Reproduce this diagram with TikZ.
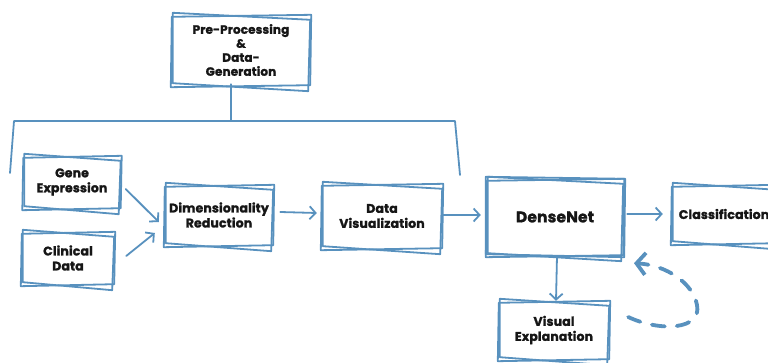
\documentclass[tikz,border=0pt]{standalone}
\usepackage{fontspec}
\setmainfont{Poppins}[BoldFeatures={FakeBold=1.5, LetterSpace=1}]
\usetikzlibrary{arrows.meta}
\definecolor{sketchblue}{RGB}{88,145,190}
\definecolor{ink}{RGB}{22,22,22}
\tikzset{
  x=1pt, y=-1pt,
  box/.style={inner sep=0pt, align=center, text=ink,
    font=\bfseries\fontsize{12.5}{15}\selectfont},
  edge/.style={draw=sketchblue, line width=1.8pt, line cap=round, line join=round},
  flow/.style={edge, -{Straight Barb[length=6pt,width=13pt,line width=1.8pt]}},
  loopback/.style={draw=sketchblue, line width=3.8pt, line cap=round,
    dash pattern=on 13pt off 12pt,
    -{Straight Barb[length=9pt,width=22pt,line width=3.8pt]}},
}
% two skewed outlines round a node, as if sketched by hand
\newcommand\sketchframe[1]{%
  \draw[edge] ([shift={(-1pt,3pt)}]#1.north west) -- ([shift={(2pt,-4pt)}]#1.north east)
    -- ([shift={(0pt,-7pt)}]#1.south east) -- ([shift={(-1pt,1pt)}]#1.south west) -- cycle;
  \draw[edge] ([shift={(-2pt,-1pt)}]#1.north west) -- ([shift={(3pt,1pt)}]#1.north east)
    -- ([shift={(2pt,-1pt)}]#1.south east) -- ([shift={(-3pt,-3pt)}]#1.south west) -- cycle;
}
\begin{document}
\begin{tikzpicture}
\useasboundingbox (0,0) rectangle (768,363);

% boxes
\node[box, minimum width=134pt, minimum height=68pt, font=\bfseries\fontsize{12}{14}\selectfont]
  (pre) at (241,50) {Pre-Processing\\\&\\Data-\\Generation};
\node[box, minimum width=93pt, minimum height=50pt] (gene) at (72,182) {Gene\\Expression};
\node[box, minimum width=88pt, minimum height=50pt] (clin) at (68,258) {Clinical\\Data};
\node[box, minimum width=104pt, minimum height=58pt] (dim) at (219,215) {Dimensionality\\Reduction};
\node[box, minimum width=116pt, minimum height=62pt] (viz) at (382,216) {Data\\Visualization};
\node[box, minimum width=132pt, minimum height=74pt, font=\bfseries\fontsize{15.5}{18}\selectfont]
  (dense) at (555,217) {DenseNet};
\node[box, minimum width=100pt, minimum height=56pt] (cls) at (724,214) {Classification};
\node[box, minimum width=106pt, minimum height=56pt] (vis) at (554,330) {Visual\\Explanation};

\foreach \n in {pre,gene,clin,dim,viz,cls,vis} {\sketchframe{\n}}
\sketchframe{dense}
\draw[edge] ([shift={(-3pt,3pt)}]dense.north west) -- ([shift={(4pt,1pt)}]dense.north east)
  -- ([shift={(3pt,-3pt)}]dense.south east) -- ([shift={(-3pt,0pt)}]dense.south west) -- cycle;

% bracket under the pre-processing box
\coordinate (stem) at (231,121);
\coordinate (bl) at (14,121);
\coordinate (br) at (455,121);
\coordinate (blf) at (10,173);
\coordinate (brf) at (460,175);
\draw[edge] (stem |- pre.south) -- (stem);
\draw[edge] (blf) -- (bl) -- (br) -- (brf);

% flow arrows
\draw[flow] ([shift={(7pt,-7pt)}]gene.east) -- ([shift={(-8pt,-7pt)}]dim.west);
\draw[flow] ([shift={(14pt,2pt)}]clin.east) -- ([shift={(-12pt,-18pt)}]dim.west);
\draw[flow] ([shift={(9pt,3pt)}]dim.east) -- ([shift={(-7pt,3pt)}]viz.west);
\draw[flow] ([shift={(3pt,1pt)}]viz.east) -- ([shift={(-8pt,2pt)}]dense.west);
\draw[flow] ([shift={(6pt,3pt)}]dense.east) -- ([shift={(-11pt,0pt)}]cls.west);
\draw[flow] ([shift={(2pt,-2pt)}]dense.south) -- ([shift={(2pt,1pt)}]vis.north);

% dashed feedback loop
\coordinate (ls) at ([shift={(21pt,13pt)}]vis.east);
\coordinate (le) at ([shift={(79pt,-9pt)}]dense.south);
\draw[loopback] (ls) .. controls (660,332) and (702,330) .. (697,305)
  .. controls (693,283) and (666,265) .. (le);
\end{tikzpicture}
\end{document}
